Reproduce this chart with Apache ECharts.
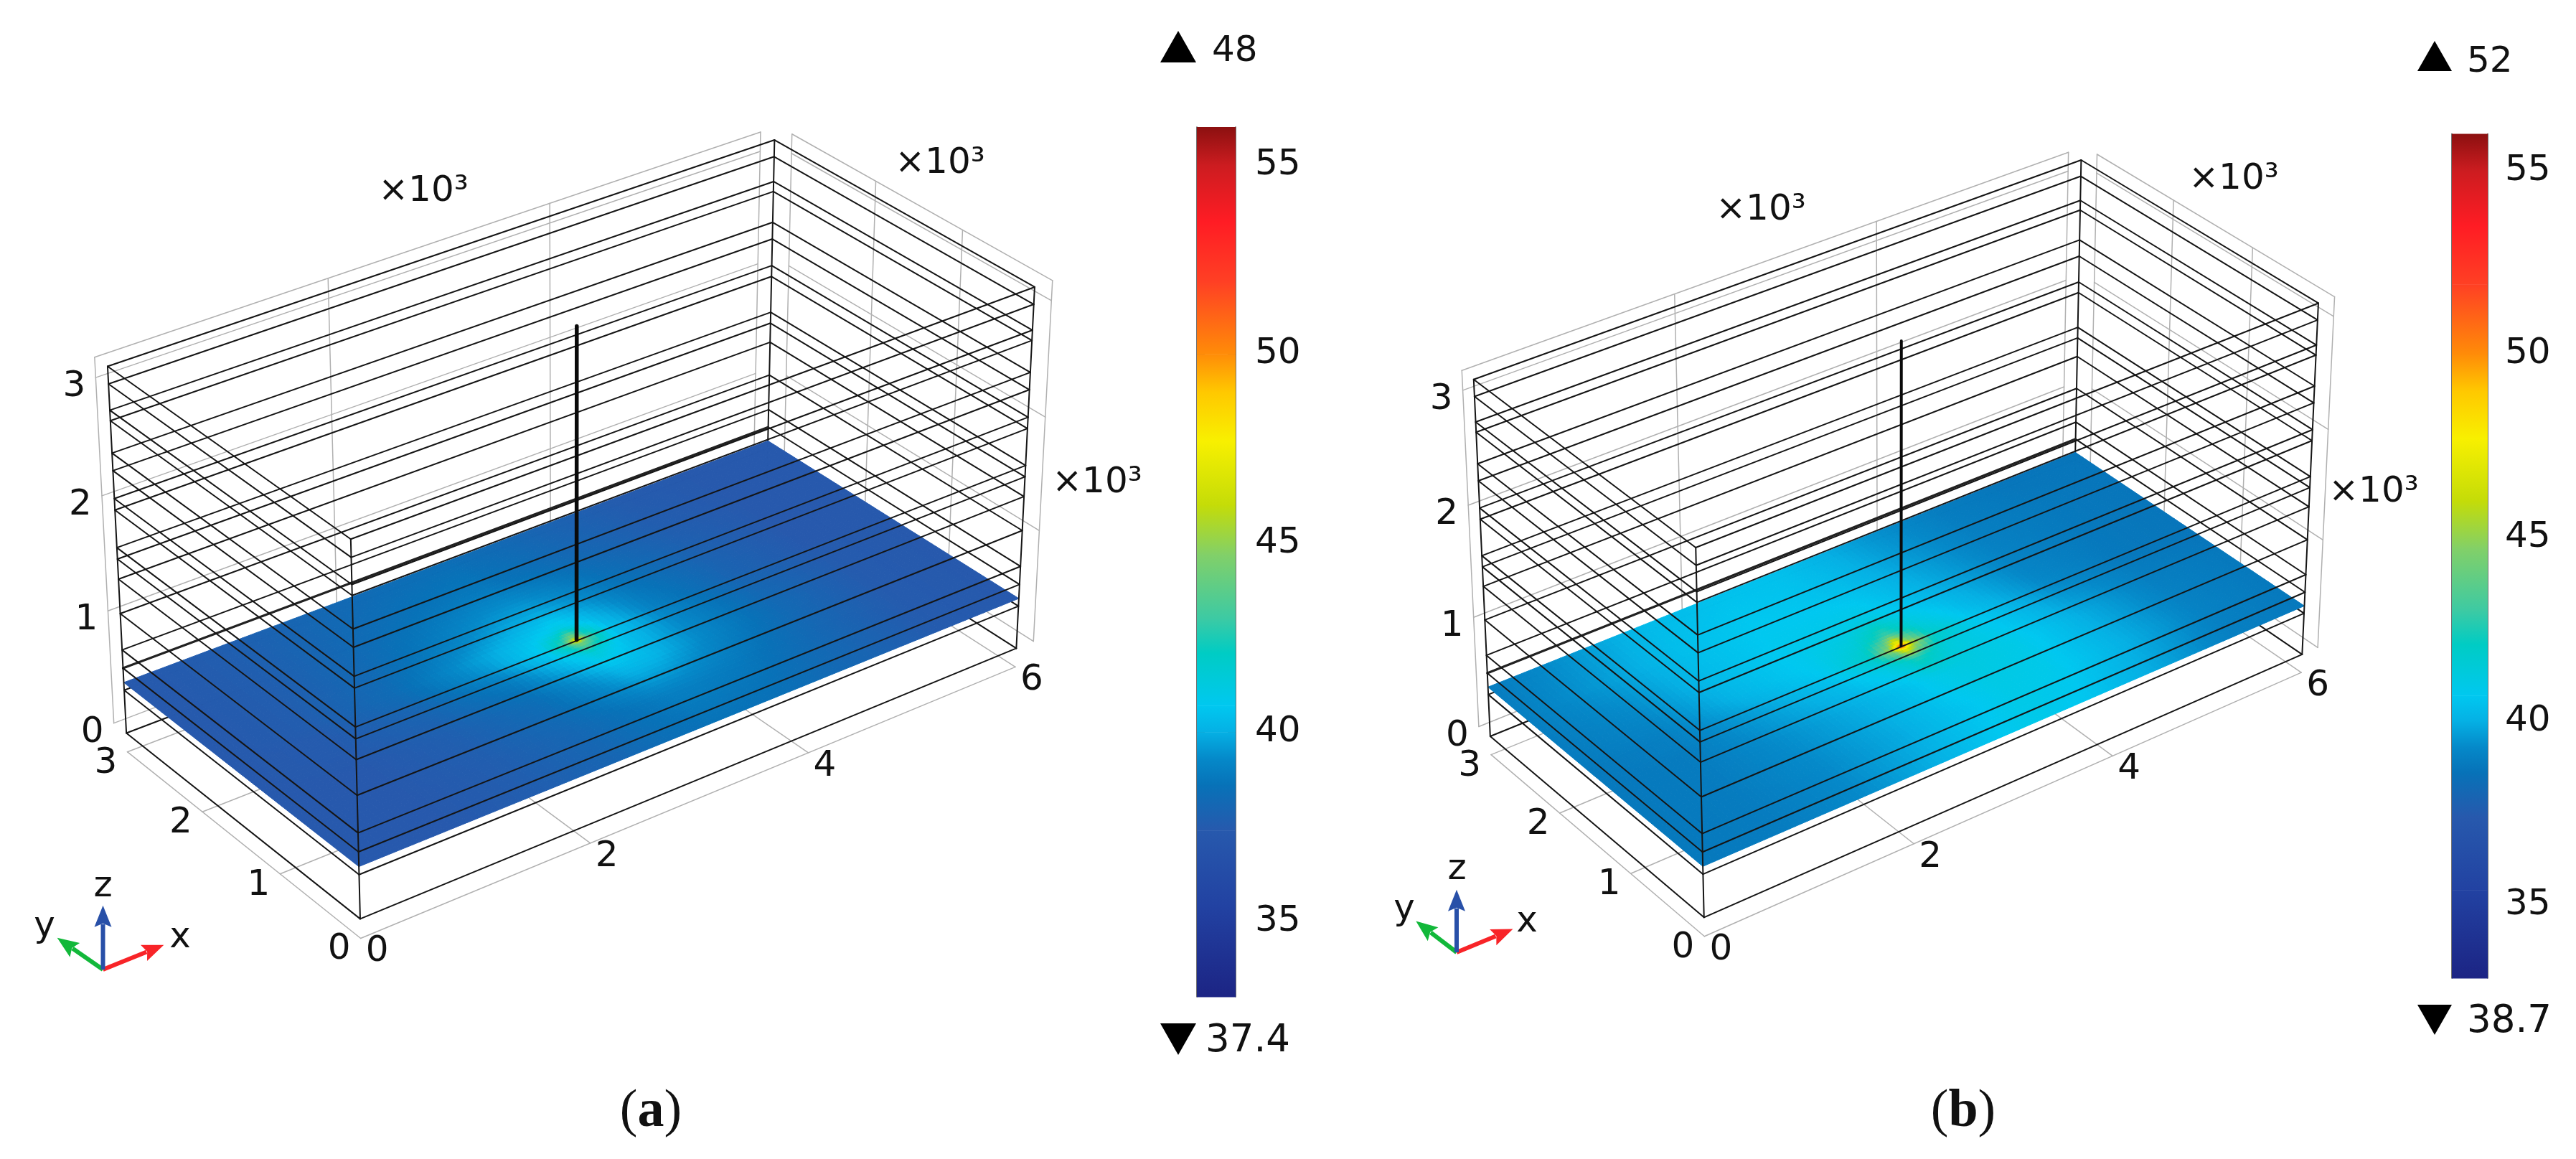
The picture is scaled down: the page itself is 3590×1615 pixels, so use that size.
<!DOCTYPE html>
<html>
<head>
<meta charset="utf-8">
<style>html,body{margin:0;padding:0;background:#fff}#c{width:3590px;height:1615px}</style>
<script src="https://cdn.jsdelivr.net/npm/echarts@6/dist/echarts.min.js"></script>
</head>
<body>
<div id="c"></div>
<script>
// ---------- data ----------
const xTicks = [0, 2000, 4000, 6000];
const yTicks = [0, 1000, 2000, 3000];
const zTicks = [0, 1000, 2000, 3000];
const layerLevels = [0, 384, 580, 742, 1062, 1363, 1537, 1636, 1959, 2057, 2295, 2444, 2717, 2805, 3024, 3170];
const plateLevel = 453;
const wellX = 3000, wellY = 1500;
const fieldX = [0, 750, 1500, 2250, 2700, 2900, 3000, 3100, 3300, 3750, 4500, 5250, 6000];
const fieldY = [0, 500, 1000, 1300, 1450, 1500, 1550, 1700, 2000, 2500, 3000];
const fieldA = [
  [37.4,37.4,37.6,38.0,38.4,38.5,38.5,38.6,38.6,38.5,38.0,37.5,37.4],
  [37.4,37.4,37.6,38.1,38.6,38.8,38.9,39.0,39.0,38.8,38.1,37.5,37.4],
  [37.4,37.4,37.7,38.4,39.4,39.9,40.2,40.3,40.2,39.3,38.2,37.5,37.4],
  [37.4,37.5,37.9,38.9,40.2,41.0,41.6,41.2,40.4,39.3,38.1,37.5,37.4],
  [37.4,37.5,38.0,39.3,40.6,42.5,44.5,43.0,40.5,39.2,38.0,37.5,37.4],
  [37.4,37.5,38.1,39.5,40.7,43.0,48.0,43.2,40.5,39.1,38.0,37.5,37.4],
  [37.4,37.5,38.2,39.6,40.8,42.6,44.8,42.6,40.4,39.0,37.9,37.4,37.4],
  [37.4,37.6,38.3,39.7,40.5,40.9,41.2,40.9,40.1,38.9,37.9,37.4,37.4],
  [37.4,37.6,38.2,39.1,39.7,39.8,39.8,39.7,39.4,38.6,37.8,37.4,37.4],
  [37.4,37.6,38.1,38.6,38.8,38.8,38.7,38.6,38.5,38.1,37.6,37.4,37.4],
  [37.4,37.6,38.0,38.3,38.4,38.4,38.3,38.3,38.2,37.9,37.5,37.4,37.4]
];
const fieldB = [
  [38.8,38.9,39.3,40.0,40.5,40.7,40.8,40.9,40.9,40.6,39.8,39.0,38.8],
  [38.8,38.9,39.3,39.9,40.4,40.6,40.7,40.8,41.0,40.9,40.0,39.1,38.8],
  [38.8,38.9,39.4,40.0,40.5,40.9,41.0,41.1,41.2,41.0,39.9,39.0,38.8],
  [38.8,38.9,39.6,40.3,41.1,41.9,42.6,42.2,41.4,40.8,39.6,38.9,38.7],
  [38.8,39.0,39.7,40.5,41.7,44.2,47.5,45.0,41.9,40.7,39.4,38.8,38.7],
  [38.8,39.0,39.8,40.6,41.9,45.5,52.0,46.0,42.0,40.6,39.3,38.8,38.7],
  [38.8,39.0,39.9,40.7,41.9,44.4,48.0,44.6,41.8,40.5,39.3,38.8,38.7],
  [38.9,39.1,40.1,40.8,41.5,42.4,43.0,42.4,41.3,40.3,39.2,38.8,38.7],
  [38.9,39.3,40.3,40.8,40.9,41.0,41.0,40.9,40.6,40.0,39.1,38.8,38.7],
  [39.0,39.6,40.4,40.7,40.6,40.5,40.4,40.4,40.2,39.7,39.0,38.8,38.7],
  [38.9,39.5,40.3,40.5,40.5,40.4,40.3,40.2,40.0,39.5,38.9,38.7,38.7]
];
const colorValues = [33,35.4,37.4,38.6,39.3,40,40.7,42.1,43,44.7,46,47.7,49,50,51.9,53.5,55,56];
const colorStops  = ['#1c2484','#2242a2','#2759ad','#0772b8','#0589c9','#05b0e4','#00c8f0','#00ccc4','#3ccaa4','#82d068','#c4dc08','#f8f000','#ffc800','#ff8c08','#ff4024','#ff1c24','#cc1c20','#8c1010'];
const barTicks = [35, 40, 45, 50, 55];
const maxLabelA = '48', minLabelA = '37.4', maxLabelB = '52', minLabelB = '38.7';
const scaleLabel = '×10³';
const panelNameA = 'a', panelNameB = 'b';

// ---------- camera: fitted to the printed box corners ----------
const camA = [
 [0,0,0,502.5,1280],[0,0,3170,489,750],[0,3000,0,175.4,1022],[0,3000,3170,150.5,510.7],
 [6000,0,0,1416.6,904],[6000,0,3170,1442.5,400],[6000,3000,3170,1079,197],[6000,3000,453,1071,611.6],
 [0,0,453,500.6,1204],[0,3000,453,173.5,948.7],[6000,0,453,1419.5,829],
 [0,0,-170,504,1310],[6000,0,-170,1413.8,932],[0,3000,-170,178.6,1050],[2000,0,-170,819.5,1177],[4000,0,-170,1126.7,1050],
 [0,3170,3170,129.5,498],[6170,0,3170,1468,392],[3000,1500,453,803.6,891.5],[3000,1500,3170,803.6,454.5]
];
const camB = [
 [0,0,0,2375,1277.7],[0,0,3170,2363.6,762.6],[0,3000,0,2077.3,1027.7],[0,3000,3170,2053,530.4],
 [6000,0,0,3208.3,912],[6000,0,3170,3231,422.3],[6000,3000,3170,2900.7,223.4],[6000,3000,453,2893,629.6],
 [0,0,453,2373,1204],[0,3000,453,2073.5,954],[6000,0,453,3210.7,843],
 [0,0,-170,2375,1308],[6000,0,-170,3206,939],[0,3000,-170,2078.6,1053.6],[2000,0,-170,2667,1176],[4000,0,-170,2945,1053.7],
 [6170,0,3170,3255,414.7],[6000,3170,3170,2881.7,212],[3000,1500,453,2649.4,898],[3000,1500,3170,2649.4,474.6]
];
function fitCamera(pts){
  const n=11, A=[], b=[];
  for(let i=0;i<n;i++){A.push(new Array(n).fill(0));b.push(0);}
  const add=(r,v)=>{for(let i=0;i<n;i++){b[i]+=r[i]*v;for(let j=0;j<n;j++)A[i][j]+=r[i]*r[j];}};
  pts.forEach(p=>{
    const X=p[0]/1000,Y=p[1]/1000,Z=p[2]/1000,u=p[3]/1000,v=p[4]/1000;
    add([X,Y,Z,1,0,0,0,0,-u*X,-u*Y,-u*Z],u);
    add([0,0,0,0,X,Y,Z,1,-v*X,-v*Y,-v*Z],v);
  });
  for(let c=0;c<n;c++){
    let m=c;for(let r=c+1;r<n;r++)if(Math.abs(A[r][c])>Math.abs(A[m][c]))m=r;
    [A[c],A[m]]=[A[m],A[c]];[b[c],b[m]]=[b[m],b[c]];
    for(let r=0;r<n;r++){ if(r===c)continue; const f=A[r][c]/A[c][c]; if(!f)continue;
      for(let k=c;k<n;k++)A[r][k]-=f*A[c][k]; b[r]-=f*b[c]; }
  }
  const p=b.map((v,i)=>v/A[i][i]);
  return (x,y,z)=>{
    const X=x/1000,Y=y/1000,Z=z/1000,w=p[8]*X+p[9]*Y+p[10]*Z+1;
    return [1000*(p[0]*X+p[1]*Y+p[2]*Z+p[3])/w,1000*(p[4]*X+p[5]*Y+p[6]*Z+p[7])/w];
  };
}

// ---------- colour scale ----------
function hexRGB(h){return [parseInt(h.substr(1,2),16),parseInt(h.substr(3,2),16),parseInt(h.substr(5,2),16)];}
const stopsRGB=colorStops.map(hexRGB);
function colorOf(t){
  if(t<=colorValues[0])return colorStops[0];
  for(let i=1;i<colorValues.length;i++){
    if(t<=colorValues[i]){
      const f=(t-colorValues[i-1])/(colorValues[i]-colorValues[i-1]),a=stopsRGB[i-1],b=stopsRGB[i];
      return 'rgb('+Math.round(a[0]+(b[0]-a[0])*f)+','+Math.round(a[1]+(b[1]-a[1])*f)+','+Math.round(a[2]+(b[2]-a[2])*f)+')';
    }
  }
  return colorStops[colorStops.length-1];
}

// ---------- model geometry built from the tick and layer lists ----------
const XM=6000,YM=3000,ZM=3170,OFF=170;
function graySegments(){
  const s=[],zf=-OFF,yw=YM+OFF,xw=XM+OFF;
  xTicks.forEach(x=>{ s.push([x,0,zf,x,YM,zf]); s.push([x,yw,0,x,yw,ZM]); });
  yTicks.forEach(y=>{ s.push([0,y,zf,XM,y,zf]); s.push([xw,y,0,xw,y,ZM]); });
  zTicks.concat([ZM]).forEach(z=>{ s.push([0,yw,z,XM,yw,z]); s.push([xw,0,z,xw,YM,z]); });
  return s;
}
function backSegments(){
  const s=[];
  layerLevels.forEach(z=>{ s.push([0,YM,z,XM,YM,z]); s.push([XM,0,z,XM,YM,z]); });
  s.push([XM,YM,0,XM,YM,ZM]);
  return s;
}
function frontSegments(){
  const s=[];
  layerLevels.forEach(z=>{ s.push([0,0,z,0,YM,z]); s.push([0,0,z,XM,0,z]); });
  s.push([0,0,0,0,0,ZM],[0,YM,0,0,YM,ZM],[XM,0,0,XM,0,ZM]);
  return s;
}
function plateCells(T){
  const out=[];
  for(let j=0;j<fieldY.length-1;j++)for(let i=0;i<fieldX.length-1;i++)
    out.push([fieldX[i],fieldY[j],fieldX[i+1],fieldY[j+1],T[j][i],T[j][i+1],T[j+1][i],T[j+1][i+1]]);
  return out;
}

// ---------- series factories (all drawn through the hidden page-sized cartesian) ----------
function lineSeries(name,proj,data,color,width){
  return {type:'custom',name,coordinateSystem:'cartesian2d',xAxisIndex:0,yAxisIndex:0,silent:true,clip:false,progressive:0,
    data,renderItem(params,api){
      const a=api.coord(proj(api.value(0),api.value(1),api.value(2)));
      const b=api.coord(proj(api.value(3),api.value(4),api.value(5)));
      return {type:'line',shape:{x1:a[0],y1:a[1],x2:b[0],y2:b[1]},style:{stroke:color,lineWidth:width,lineCap:'round'}};
    }};
}
function plateSeries(name,proj,field){
  return {type:'custom',name,coordinateSystem:'cartesian2d',xAxisIndex:0,yAxisIndex:0,silent:true,clip:false,progressive:0,
    data:plateCells(field),renderItem(params,api){
      const x0=api.value(0),y0=api.value(1),x1=api.value(2),y1=api.value(3);
      const t00=api.value(4),t10=api.value(5),t01=api.value(6),t11=api.value(7);
      const nx=Math.max(4,Math.ceil((x1-x0)/60)),ny=Math.max(4,Math.ceil((y1-y0)/50));
      const children=[];
      for(let j=0;j<ny;j++)for(let i=0;i<nx;i++){
        const u0=i/nx,u1=(i+1)/nx,v0=j/ny,v1=(j+1)/ny,um=(u0+u1)/2,vm=(v0+v1)/2;
        const t=(t00*(1-um)+t10*um)*(1-vm)+(t01*(1-um)+t11*um)*vm;
        const P=(u,v)=>api.coord(proj(x0+(x1-x0)*u,y0+(y1-y0)*v,plateLevel));
        const c=colorOf(t);
        children.push({type:'polygon',shape:{points:[P(u0,v0),P(u1,v0),P(u1,v1),P(u0,v1)]},style:{fill:c,stroke:c,lineWidth:1}});
      }
      return {type:'group',children};
    }};
}
function tickLabelSeries(name,proj,points,dx,dy){
  return {type:'custom',name,coordinateSystem:'cartesian2d',xAxisIndex:0,yAxisIndex:0,silent:true,clip:false,
    data:points,renderItem(params,api){
      const p=api.coord(proj(api.value(0),api.value(1),api.value(2)));
      return {type:'text',x:p[0]+dx,y:p[1]+dy,style:{text:String(api.value(3)),fill:'#111',font:'50px "DejaVu Sans"',align:'center',verticalAlign:'middle'}};
    }};
}
function barSeries(xi,yi){
  const d=[];for(let i=0;i<colorValues.length-1;i++)d.push([colorValues[i],colorValues[i+1],i]);
  return {type:'custom',name:'colour bar',coordinateSystem:'cartesian2d',xAxisIndex:xi,yAxisIndex:yi,silent:true,
    encode:{y:[0,1]},data:d,renderItem(params,api){
      const a=api.coord([0,api.value(0)]),b=api.coord([1,api.value(1)]),k=api.value(2);
      return {type:'rect',shape:{x:a[0],y:b[1],width:b[0]-a[0],height:a[1]-b[1]+0.6},
        style:{fill:new echarts.graphic.LinearGradient(0,1,0,0,[{offset:0,color:colorStops[k]},{offset:1,color:colorStops[k+1]}])}};
    }};
}
function panel(label,proj,field,wellWidth){
  const yw=YM+OFF;
  return [
    lineSeries(label+' grid',proj,graySegments(),'#b0b0b0',1.5),
    lineSeries(label+' back layers',proj,backSegments(),'#151515',2),
    lineSeries(label+' layer bold',proj,[[0,YM,layerLevels[2],XM,YM,layerLevels[2]]],'#222',3.2),
    plateSeries(label+' temperature',proj,field),
    lineSeries(label+' front layers',proj,frontSegments(),'#151515',2),
    lineSeries(label+' well',proj,[[wellX,wellY,plateLevel,wellX,wellY,ZM]],'#0a0a0a',wellWidth),
    tickLabelSeries(label+' x ticks',proj,xTicks.map(x=>[x,0,-OFF,x/1000]),23,19),
    tickLabelSeries(label+' y ticks',proj,yTicks.map(y=>[0,y,-OFF,y/1000]),-30,16),
    tickLabelSeries(label+' z ticks',proj,zTicks.map(z=>[0,yw,z,z/1000]),-30,13)
  ];
}

// ---------- page furniture ----------
function txt(x,y,t,size,align){
  return {type:'text',x,y:y+4,silent:true,style:{text:t,fill:'#111',font:size+'px "DejaVu Sans"',align:align||'center',verticalAlign:'middle'}};
}
function tri(x0,x1,yBase,yTip){
  return {type:'polygon',silent:true,shape:{points:[[x0,yBase],[x1,yBase],[(x0+x1)/2,yTip]]},style:{fill:'#000'}};
}
function arrow(o,tip,color){
  const dx=tip[0]-o[0],dy=tip[1]-o[1],L=Math.hypot(dx,dy),ux=dx/L,uy=dy/L,nx=-uy,ny=ux;
  const hl=30,hw=12,bx=tip[0]-ux*hl,by=tip[1]-uy*hl;
  return [
    {type:'line',silent:true,shape:{x1:o[0],y1:o[1],x2:bx+ux*4,y2:by+uy*4},style:{stroke:color,lineWidth:6}},
    {type:'polygon',silent:true,shape:{points:[tip,[bx+nx*hw,by+ny*hw],[bx+ux*5,by+uy*5],[bx-nx*hw,by-ny*hw]]},style:{fill:color}}
  ];
}
function caption(cx,cy,name){
  return {type:'text',x:cx,y:cy,silent:true,style:{
    text:'{p|(}{b|'+name+'}{p|)}',align:'center',verticalAlign:'middle',
    rich:{p:{font:'74px "Liberation Serif"',fill:'#111'},b:{font:'bold 74px "Liberation Serif"',fill:'#111'}}}};
}
const graphics=[
  txt(590,263,scaleLabel,50),txt(1310,224,scaleLabel,50),txt(1529,669,scaleLabel,50),
  txt(2454,289,scaleLabel,50),txt(3113,246,scaleLabel,50),txt(3308,682,scaleLabel,50),
  tri(1617,1667,87,43),tri(1617,1667,1426,1470),
  txt(1689,68,maxLabelA,50,'left'),txt(1680,1447,minLabelA,53,'left'),
  tri(3369,3417,99,57),tri(3369,3417,1400,1442),
  txt(3438,83,maxLabelB,50,'left'),txt(3438,1420,minLabelB,53,'left'),
  ...arrow([143.5,1351],[79.7,1306.7],'#12b83a'),...arrow([143.5,1351],[228.3,1316.7],'#f82428'),...arrow([143.5,1351],[143.5,1261.7],'#2850a8'),
  txt(143.5,1232,'z',50),txt(251,1303,'x',50),txt(62,1288,'y',50),
  ...arrow([2030,1327],[1973.3,1283.5],'#12b83a'),...arrow([2030,1327],[2108.5,1294.6],'#f82428'),...arrow([2030,1327],[2030,1239.7],'#2850a8'),
  txt(2030.7,1208,'z',50),txt(2128,1281,'x',50),txt(1957,1264,'y',50),
  caption(907,1550,panelNameA),caption(2736,1550,panelNameB)
];

function barAxis(grid,pos,margin,withLabels){
  return {type:'value',gridIndex:grid,position:pos,min:colorValues[0],max:colorValues[colorValues.length-1],
    splitLine:{show:false},axisLine:{show:true,onZero:false,lineStyle:{color:'#444',width:1.5}},
    axisTick:{show:true,inside:true,length:11,customValues:barTicks,lineStyle:{color:'#333',width:1.5}},
    axisLabel:withLabels?{show:true,inside:false,margin,customValues:barTicks,color:'#111',fontSize:50,fontFamily:'DejaVu Sans',padding:[8,0,0,0],hideOverlap:false}:{show:false}};
}

const option={
  animation:false,backgroundColor:'#fff',
  grid:[
    {left:0,top:0,width:3590,height:1615},
    {left:1668,top:177,width:54,height:1212},
    {left:3417,top:186.5,width:50,height:1176.5}
  ],
  xAxis:[
    {type:'value',gridIndex:0,min:0,max:3590,show:false},
    {type:'value',gridIndex:1,min:0,max:1,show:false},
    {type:'value',gridIndex:2,min:0,max:1,show:false}
  ],
  yAxis:[
    {type:'value',gridIndex:0,min:0,max:1615,inverse:true,show:false},
    barAxis(1,'right',27,true),barAxis(1,'left',0,false),
    barAxis(2,'right',24,true),barAxis(2,'left',0,false)
  ],
  graphic:graphics,
  series:[
    ...panel('a',fitCamera(camA),fieldA,5.5),
    ...panel('b',fitCamera(camB),fieldB,4),
    barSeries(1,1),barSeries(2,3)
  ]
};
const chart=echarts.init(document.getElementById('c'),null,{renderer:'canvas',width:3590,height:1615});
chart.setOption(option);
</script>
</body>
</html>
